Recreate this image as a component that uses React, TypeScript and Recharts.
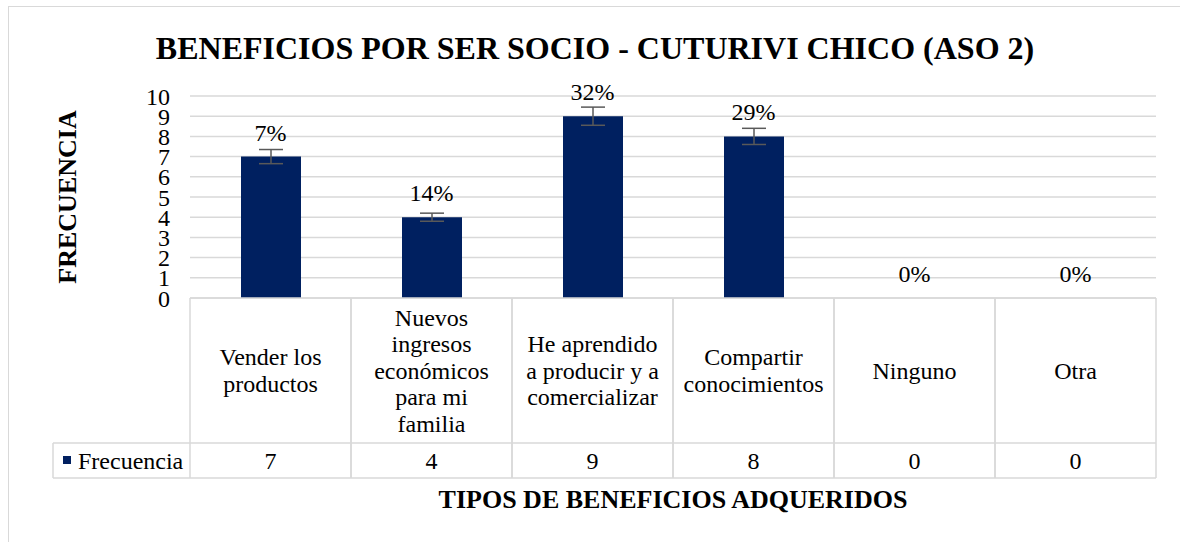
import { ComposedChart, Bar, Line, XAxis, YAxis, CartesianGrid, ErrorBar, LabelList } from "recharts";

const categoryLines = [
  ["Vender los", "productos"],
  ["Nuevos", "ingresos", "económicos", "para mi", "familia"],
  ["He aprendido", "a producir y a", "comercializar"],
  ["Compartir", "conocimientos"],
  ["Ninguno"],
  ["Otra"],
];
const categories = categoryLines.map((l) => l.join(" "));
const frecuencia = [7, 4, 9, 8, 0, 0];
const porcentajes = ["7%", "14%", "32%", "29%", "0%", "0%"];
const errores = [0.35, 0.2, 0.45, 0.4, 0, 0];
const yTicks = [0, 1, 2, 3, 4, 5, 6, 7, 8, 9, 10];

const data = categories.map((c, i) => ({ name: c, value: frecuencia[i], err: errores[i] }));

const W = 1180;
const H = 542;
const M = { top: 96, right: 24, left: 150, bottom: 64 };
const Y_W = 40;
const X_H = 180;
const FONT = "'Liberation Serif', 'Times New Roman', serif";
const GRID = "#d9d9d9";
const NAVY = "#002060";
const CAT_H = 145;
const VAL_H = 35;
const LINE_H = 26.5;

function TableTick(props: any) {
  const { x, y, index } = props;
  const cw = (W - M.left - Y_W - M.right) / categories.length;
  const l = x - cw / 2;
  const r = x + cw / 2;
  const line = { stroke: GRID, strokeWidth: 1.5 };
  const lines = categoryLines[index] || [];
  const first = y + CAT_H / 2 - ((lines.length - 1) * LINE_H) / 2 + 8;
  const txt = { fontFamily: FONT, fontSize: 24, fill: "#000" };
  return (
    <g>
      <line x1={l} y1={y} x2={r} y2={y} {...line} />
      <line x1={l} y1={y + CAT_H} x2={r} y2={y + CAT_H} {...line} />
      <line x1={l} y1={y + CAT_H + VAL_H} x2={r} y2={y + CAT_H + VAL_H} {...line} />
      <line x1={l} y1={y} x2={l} y2={y + CAT_H + VAL_H} {...line} />
      <line x1={r} y1={y} x2={r} y2={y + CAT_H + VAL_H} {...line} />
      <text textAnchor="middle" style={txt}>
        {lines.map((s, i) => (
          <tspan key={i} x={x} y={first + i * LINE_H}>
            {s}
          </tspan>
        ))}
      </text>
      <text x={x} y={y + CAT_H + VAL_H / 2 + 8} textAnchor="middle" style={txt}>
        {frecuencia[index]}
      </text>
      {index === 0 && (
        <g>
          <line x1={l - 137} y1={y + CAT_H} x2={l} y2={y + CAT_H} {...line} />
          <line x1={l - 137} y1={y + CAT_H + VAL_H} x2={l} y2={y + CAT_H + VAL_H} {...line} />
          <line x1={l - 137} y1={y + CAT_H} x2={l - 137} y2={y + CAT_H + VAL_H} {...line} />
          <rect x={l - 127} y={y + CAT_H + 13} width={8} height={8} fill={NAVY} />
          <text x={l - 112} y={y + CAT_H + VAL_H / 2 + 8} style={txt}>
            Frecuencia
          </text>
        </g>
      )}
    </g>
  );
}

function PctLabel(props: any) {
  const { x, y, index } = props;
  return (
    <text x={x} y={y - 16} textAnchor="middle" style={{ fontFamily: FONT, fontSize: 24, fill: "#000" }}>
      {porcentajes[index]}
    </text>
  );
}

export default function App() {
  return (
    <div style={{ position: "absolute", left: 0, top: 0, width: W, height: H, background: "#fff", overflow: "hidden" }}>
      <div
        style={{
          position: "absolute",
          left: 8,
          top: 6,
          width: W,
          height: H,
          borderLeft: `1.5px solid ${GRID}`,
          borderTop: `1.5px solid ${GRID}`,
        }}
      />
      <div
        style={{
          position: "absolute",
          left: 0,
          width: 1190,
          top: 28,
          textAlign: "center",
          fontFamily: FONT,
          fontWeight: "bold",
          fontSize: 32,
          lineHeight: "40px",
        }}
      >
        BENEFICIOS POR SER SOCIO - CUTURIVI CHICO (ASO 2)
      </div>
      <div
        style={{
          position: "absolute",
          left: 68 - 120,
          top: 197 - 16,
          width: 240,
          height: 32,
          lineHeight: "32px",
          textAlign: "center",
          transform: "rotate(-90deg)",
          fontFamily: FONT,
          fontWeight: "bold",
          fontSize: 26,
        }}
      >
        FRECUENCIA
      </div>
      <div
        style={{
          position: "absolute",
          left: 673 - 400,
          top: 484,
          width: 800,
          textAlign: "center",
          fontFamily: FONT,
          fontWeight: "bold",
          fontSize: 26,
          lineHeight: "32px",
        }}
      >
        TIPOS DE BENEFICIOS ADQUERIDOS
      </div>
      <div style={{ position: "absolute", left: 0, top: 0 }}>
        <ComposedChart width={W} height={H} data={data} margin={M}>
          <CartesianGrid vertical={false} stroke={GRID} strokeWidth={1.5} />
          <XAxis
            dataKey="name"
            height={X_H}
            axisLine={false}
            tickLine={false}
            tickSize={0}
            tickMargin={0}
            interval={0}
            tick={<TableTick />}
          />
          <YAxis
            width={Y_W}
            domain={[0, 10]}
            ticks={yTicks}
            interval={0}
            axisLine={false}
            tickLine={false}
            tickSize={0}
            tickMargin={20}
            tick={{ fontFamily: FONT, fontSize: 24, fill: "#000" }}
          />
          <Bar dataKey="value" fill={NAVY} barSize={60} isAnimationActive={false}>
            <ErrorBar dataKey="err" width={12} stroke="#595959" strokeWidth={1.5} direction="y" />
          </Bar>
          <Line dataKey="value" stroke="none" dot={false} activeDot={false} isAnimationActive={false}>
            <LabelList dataKey="value" content={<PctLabel />} />
          </Line>
        </ComposedChart>
      </div>
    </div>
  );
}
